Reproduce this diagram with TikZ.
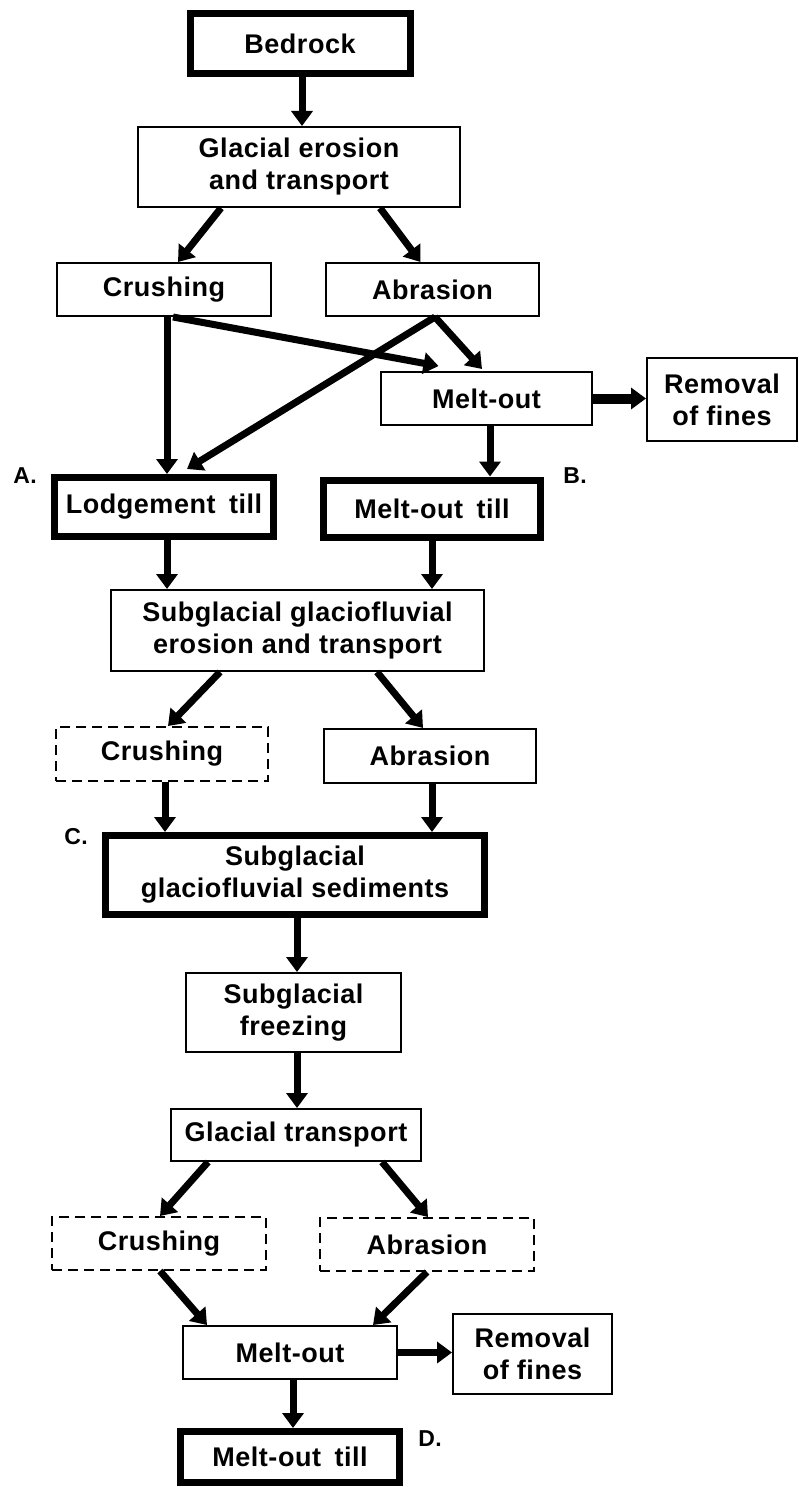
\documentclass[tikz,border=0pt]{standalone}
\usepackage{fontspec}
\setmainfont{Liberation Sans}[LetterSpace=2]
\usetikzlibrary{arrows.meta}
\tikzset{
  box/.style={draw,rectangle,line width=2pt,inner sep=0pt,align=center,font=\bfseries\fontsize{27}{32}\selectfont},
  keybox/.style={box,line width=7pt},
  faintbox/.style={box,dash pattern=on 10pt off 6pt},
  flow/.style={line width=7pt,-{Triangle[width=21pt,length=15pt]}},
  tag/.style={font=\bfseries\fontsize{23}{28}\selectfont},
}

\begin{document}
\begin{tikzpicture}[x=1pt,y=1pt]
  \path[fill=white] (0,0) rectangle (799,-1487);
  % glacial part
  \node[keybox,minimum width=220pt,minimum height=60pt] (bedrock) at (300,-43.5) {Bedrock};
  \node[box,minimum width=322pt,minimum height=80pt] (erosion) at (299,-167) {Glacial erosion\\and transport};
  \node[box,minimum width=214pt,minimum height=53pt] (crush1) at (164,-289.5) {Crushing};
  \node[box,minimum width=213pt,minimum height=53pt] (abr1) at (432.5,-289.5) {Abrasion};
  \node[box,minimum width=211pt,minimum height=53pt] (melt1) at (486.5,-398.5) {Melt-out};
  \node[box,minimum width=150pt,minimum height=83pt] (fines1) at (722,-399.5) {Removal\\of fines};
  \node[keybox,minimum width=219pt,minimum height=59pt] (lodge) at (164,-507) {Lodgement\enspace till};
  \node[keybox,minimum width=217pt,minimum height=57pt] (melttill1) at (432,-508.5) {Melt-out\enspace till};
  \node[tag] (tagA) at (25,-476) {A.};
  \node[tag] (tagB) at (575,-476) {B.};
  % glaciofluvial part
  \node[box,minimum width=373pt,minimum height=81pt] (sgerosion) at (297.5,-630.5) {Subglacial glaciofluvial\\erosion and transport};
  \node[faintbox,minimum width=212pt,minimum height=54pt] (crush2) at (162,-754) {Crushing};
  \node[box,minimum width=212pt,minimum height=54pt] (abr2) at (430,-756) {Abrasion};
  \node[keybox,minimum width=379pt,minimum height=79pt] (sediments) at (295,-875) {Subglacial\\glaciofluvial sediments};
  \node[tag] (tagC) at (76,-837) {C.};
  % refreezing part
  \node[box,minimum width=215pt,minimum height=79pt] (freezing) at (293.5,-1012.5) {Subglacial\\freezing};
  \node[box,minimum width=250pt,minimum height=52pt] (gtrans) at (296,-1135) {Glacial transport};
  \node[faintbox,minimum width=214pt,minimum height=53pt] (crush3) at (159,-1243.5) {Crushing};
  \node[faintbox,minimum width=214pt,minimum height=53pt] (abr3) at (427,-1244.5) {Abrasion};
  \node[box,minimum width=214pt,minimum height=53pt] (melt3) at (290,-1352.5) {Melt-out};
  \node[box,minimum width=159pt,minimum height=80pt] (fines2) at (532.5,-1354) {Removal\\of fines};
  \node[keybox,minimum width=219pt,minimum height=51pt] (melttill3) at (290,-1457) {Melt-out\enspace till};
  \node[tag] (tagD) at (430,-1439) {D.};
  % arrows
  \draw[flow] ([xshift=2pt]bedrock.south) -- ([xshift=2pt]bedrock.south |- erosion.north);
  \draw[flow] ([xshift=-78pt]erosion.south) -- ([xshift=14pt]crush1.north);
  \draw[flow] ([xshift=81pt]erosion.south) -- ([xshift=-12pt]abr1.north);
  \draw[flow] ([xshift=3pt]crush1.south) -- ([xshift=3pt]crush1.south |- lodge.north);
  \draw[flow] ([xshift=9pt]crush1.south) -- ([xshift=-48pt,yshift=5pt]melt1.north);
  \draw[flow] ([xshift=2.5pt]abr1.south) -- ([xshift=-4.5pt,yshift=2pt]melt1.north);
  \draw[flow] ([xshift=2.5pt]abr1.south) -- ([xshift=23pt,yshift=5pt]lodge.north);
  \draw[flow,line width=10pt] (melt1.east) -- (fines1.west |- melt1.east);
  \draw[flow] ([xshift=3.5pt]melt1.south) -- ([xshift=3.5pt]melt1.south |- melttill1.north);
  \draw[flow] ([xshift=3pt]lodge.south) -- ([xshift=3pt]lodge.south |- sgerosion.north);
  \draw[flow] (melttill1.south) -- (melttill1.south |- sgerosion.north);
  \draw[flow] ([xshift=-77.5pt]sgerosion.south) -- ([xshift=6pt]crush2.north);
  \draw[flow] ([xshift=79.5pt]sgerosion.south) -- ([xshift=-7pt]abr2.north);
  \draw[flow] ([xshift=3pt]crush2.south) -- ([xshift=3pt]crush2.south |- sediments.north);
  \draw[flow] ([xshift=2pt]abr2.south) -- ([xshift=2pt]abr2.south |- sediments.north);
  \draw[flow] ([xshift=2pt]sediments.south) -- ([xshift=2pt]sediments.south |- freezing.north);
  \draw[flow] ([xshift=3.5pt]freezing.south) -- ([xshift=3.5pt]freezing.south |- gtrans.north);
  \draw[flow] ([xshift=-88pt]gtrans.south) -- ([xshift=1pt]crush3.north);
  \draw[flow] ([xshift=86pt]gtrans.south) -- ([xshift=1pt]abr3.north);
  \draw[flow] ([xshift=1pt]crush3.south) -- ([xshift=-83pt]melt3.north);
  \draw[flow] (abr3.south) -- ([xshift=83pt]melt3.north);
  \draw[flow] (melt3.east) -- (fines2.west |- melt3.east);
  \draw[flow] ([xshift=3pt]melt3.south) -- ([xshift=3pt]melt3.south |- melttill3.north);
\end{tikzpicture}
\end{document}
